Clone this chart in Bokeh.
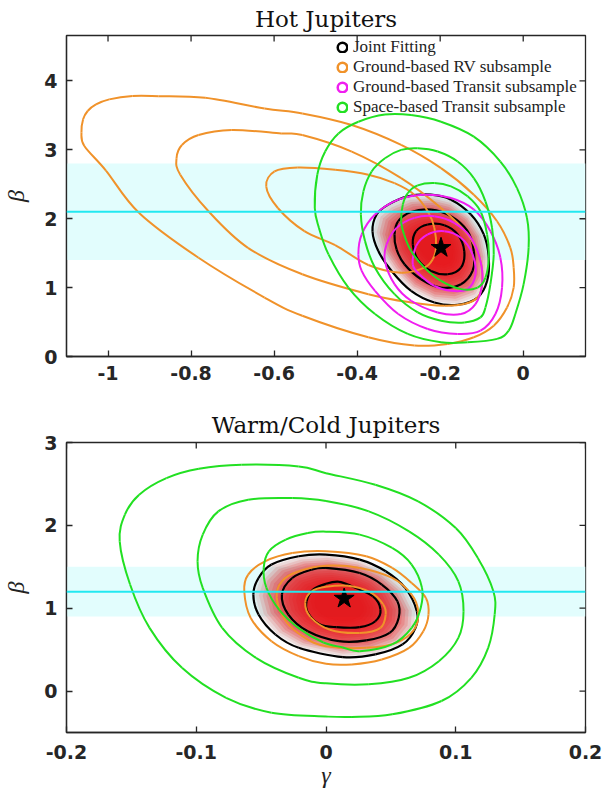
import math
from bokeh.plotting import figure
from bokeh.models import (Range1d, FixedTicker, BoxAnnotation, Span,
                          Legend, LegendItem, ColumnDataSource)
from bokeh.layouts import column
from bokeh.embed import file_html
from bokeh.resources import INLINE

# ---------------- data (gamma, beta) ----------------
HOT_X_TICKS = [-1.0, -0.8, -0.6, -0.4, -0.2, 0.0]
HOT_X_LABELS = ["-1", "-0.8", "-0.6", "-0.4", "-0.2", "0"]
HOT_Y_TICKS = [0, 1, 2, 3, 4]
HOT_Y_LABELS = ["0", "1", "2", "3", "4"]
WC_X_TICKS = [-0.2, -0.1, 0.0, 0.1, 0.2]
WC_X_LABELS = ["-0.2", "-0.1", "0", "0.1", "0.2"]
WC_Y_TICKS = [0, 1, 2, 3]
WC_Y_LABELS = ["0", "1", "2", "3"]

HOT_BETA_REF = [1.4, 2.1, 2.8]     # band low, line, band high
WC_BETA_REF = [0.9, 1.2, 1.5]
HOT_BEST = (-0.198, 1.578)
WC_BEST = (0.014, 1.117)

HOT_JOINT_1 = [(-0.266,1.627),(-0.258,1.819),(-0.230,1.916),(-0.190,1.906),(-0.158,1.772),(-0.142,1.531),
               (-0.150,1.290),(-0.182,1.194),(-0.222,1.242),(-0.254,1.411)]
HOT_JOINT_2 = [(-0.310,1.772),(-0.301,1.964),(-0.270,2.098),(-0.222,2.133),(-0.174,2.036),(-0.134,1.819),
               (-0.119,1.531),(-0.122,1.242),(-0.150,1.050),(-0.198,1.001),(-0.246,1.122),(-0.286,1.339),
               (-0.305,1.555)]
HOT_JOINT_3 = [(-0.363,1.819),(-0.353,2.061),(-0.325,2.205),(-0.278,2.325),(-0.222,2.349),(-0.174,2.277),
               (-0.126,2.061),(-0.095,1.772),(-0.083,1.434),(-0.087,1.097),(-0.110,0.856),(-0.158,0.751),
               (-0.214,0.784),(-0.270,0.953),(-0.317,1.242),(-0.349,1.531)]
HOT_RV_1 = [(-0.619,2.469),(-0.599,2.686),(-0.543,2.744),(-0.453,2.710),(-0.373,2.638),(-0.310,2.517),
            (-0.262,2.349),(-0.230,2.108),(-0.214,1.867),(-0.210,1.578),(-0.218,1.411),(-0.238,1.290),
            (-0.294,1.217),(-0.373,1.329),(-0.453,1.617),(-0.527,1.819),(-0.591,2.156)]
HOT_RV_2 = [(-0.835,2.878),(-0.822,3.071),(-0.782,3.216),(-0.702,3.288),(-0.583,3.239),(-0.532,3.215),
            (-0.413,2.975),(-0.294,2.589),(-0.198,2.156),(-0.134,1.772),(-0.103,1.386),(-0.099,1.050),
            (-0.110,0.856),(-0.142,0.761),(-0.190,0.736),(-0.270,0.784),(-0.373,0.905),(-0.532,1.194),
            (-0.663,1.578),(-0.758,2.108),(-0.826,2.638)]
HOT_RV_3 = [(-1.064,3.250),(-1.060,3.443),(-1.049,3.564),(-1.029,3.660),(-0.997,3.733),(-0.941,3.781),
            (-0.878,3.779),(-0.766,3.755),(-0.623,3.600),(-0.532,3.528),(-0.413,3.360),(-0.294,3.071),
            (-0.198,2.734),(-0.119,2.349),(-0.063,1.964),(-0.031,1.578),(-0.023,1.290),(-0.023,1.001),
            (-0.039,0.712),(-0.071,0.448),(-0.119,0.279),(-0.182,0.183),(-0.262,0.159),(-0.373,0.279),
            (-0.532,0.592),(-0.623,0.856),(-0.782,1.434),(-0.925,2.084),(-1.005,2.700),(-1.057,3.057)]
HOT_TRANSIT_1 = [(-0.266,1.339),(-0.258,1.603),(-0.230,1.772),(-0.190,1.819),(-0.150,1.723),(-0.122,1.483),
                 (-0.115,1.194),(-0.134,0.978),(-0.174,0.953),(-0.214,1.025),(-0.250,1.194)]
HOT_TRANSIT_2 = [(-0.333,1.386),(-0.329,1.627),(-0.305,1.867),(-0.262,2.012),(-0.214,2.036),(-0.166,1.939),
                 (-0.126,1.723),(-0.103,1.386),(-0.099,1.050),(-0.115,0.761),(-0.150,0.617),(-0.206,0.640),
                 (-0.270,0.809),(-0.310,1.050)]
HOT_TRANSIT_3 = [(-0.397,1.483),(-0.389,1.772),(-0.357,2.061),(-0.301,2.277),(-0.238,2.349),(-0.174,2.300),
                 (-0.119,2.133),(-0.079,1.819),(-0.055,1.434),(-0.051,1.001),(-0.067,0.617),(-0.103,0.375),
                 (-0.158,0.328),(-0.230,0.400),(-0.301,0.617),(-0.357,0.953),(-0.389,1.242)]
HOT_SPACE_1 = [(-0.294,1.964),(-0.290,2.205),(-0.278,2.373),(-0.254,2.484),(-0.214,2.517),(-0.174,2.469),
               (-0.134,2.325),(-0.103,2.108),(-0.087,1.772),(-0.083,1.434),(-0.091,1.145),(-0.110,1.001),
               (-0.150,0.978),(-0.198,1.097),(-0.238,1.290),(-0.270,1.531),(-0.287,1.772)]
HOT_SPACE_2 = [(-0.391,2.061),(-0.385,2.397),(-0.365,2.686),(-0.333,2.878),(-0.294,2.999),(-0.254,3.022),
               (-0.206,2.975),(-0.158,2.830),(-0.119,2.589),(-0.091,2.253),(-0.075,1.867),(-0.071,1.483),
               (-0.079,1.050),(-0.091,0.712),(-0.103,0.568),(-0.142,0.495),(-0.198,0.520),(-0.254,0.640),
               (-0.310,0.905),(-0.357,1.290),(-0.381,1.675)]
HOT_SPACE_3 = [(-0.502,2.156),(-0.496,2.638),(-0.477,2.975),(-0.445,3.239),(-0.397,3.408),(-0.333,3.513),
               (-0.270,3.505),(-0.198,3.408),(-0.119,3.191),(-0.055,2.830),(-0.015,2.445),(0.009,2.012),
               (0.013,1.578),(0.001,1.050),(-0.019,0.617),(-0.035,0.375),(-0.063,0.256),(-0.134,0.206),
               (-0.198,0.206),(-0.278,0.328),(-0.357,0.617),(-0.421,1.001),(-0.469,1.483),(-0.492,1.867)]

WC_JOINT_1 = [(-0.015,1.084),(-0.010,1.225),(0.000,1.295),(0.010,1.319),(0.020,1.265),(0.036,1.145),
              (0.042,0.984),(0.038,0.843),(0.026,0.771),(0.008,0.771),(-0.005,0.807),(-0.014,0.948)]
WC_JOINT_2 = [(-0.034,1.165),(-0.026,1.365),(-0.011,1.466),(0.000,1.486),(0.026,1.425),(0.043,1.286),
              (0.055,1.084),(0.056,0.883),(0.049,0.702),(0.031,0.611),(0.010,0.602),(-0.014,0.723),
              (-0.029,0.924)]
WC_JOINT_3 = [(-0.056,1.165),(-0.052,1.365),(-0.042,1.527),(-0.021,1.627),(0.000,1.647),(0.026,1.587),
              (0.046,1.446),(0.061,1.245),(0.070,0.964),(0.069,0.763),(0.059,0.563),(0.038,0.442),
              (0.013,0.410),(-0.021,0.522),(-0.039,0.683),(-0.052,0.924)]
WC_RV_1 = [(-0.016,1.069),(-0.011,1.205),(0.000,1.259),(0.017,1.271),(0.034,1.193),(0.044,1.048),
           (0.046,0.924),(0.042,0.763),(0.026,0.702),(0.003,0.741),(-0.012,0.892)]
WC_RV_2 = [(-0.038,1.124),(-0.034,1.325),(-0.021,1.446),(0.000,1.512),(0.026,1.486),(0.051,1.365),
           (0.066,1.165),(0.071,0.964),(0.068,0.743),(0.054,0.582),(0.031,0.522),(0.000,0.542),
           (-0.016,0.642),(-0.031,0.843)]
WC_RV_3 = [(-0.063,1.205),(-0.060,1.406),(-0.047,1.566),(-0.026,1.666),(0.000,1.687),(0.031,1.627),
           (0.051,1.486),(0.066,1.305),(0.077,1.124),(0.079,0.924),(0.075,0.723),(0.064,0.522),
           (0.043,0.382),(0.020,0.322),(0.000,0.329),(-0.021,0.422),(-0.042,0.602),(-0.058,0.883)]
WC_SPACE_1 = [(-0.048,1.486),(-0.044,1.687),(-0.031,1.828),(-0.014,1.907),(0.000,1.924),(0.026,1.888),
              (0.051,1.727),(0.066,1.527),(0.074,1.245),(0.073,1.004),(0.066,0.763),(0.051,0.563),
              (0.026,0.482),(0.013,0.526),(-0.002,0.586),(-0.020,0.747),(-0.036,0.980),(-0.046,1.250)]
WC_SPACE_2 = [(-0.099,1.566),(-0.095,1.888),(-0.083,2.169),(-0.060,2.310),(-0.026,2.329),(0.000,2.293),
              (0.033,2.169),(0.064,1.928),(0.087,1.647),(0.102,1.325),(0.106,0.964),(0.102,0.642),
              (0.087,0.361),(0.064,0.160),(0.033,0.081),(0.000,0.093),(-0.021,0.160),(-0.054,0.401),
              (-0.080,0.763),(-0.095,1.245)]
WC_SPACE_3 = [(-0.159,1.807),(-0.155,2.129),(-0.144,2.370),(-0.123,2.570),(-0.098,2.683),(-0.065,2.731),
              (-0.021,2.711),(0.000,2.630),(0.038,2.490),(0.071,2.289),(0.100,1.967),(0.117,1.606),
              (0.129,1.205),(0.130,0.924),(0.125,0.522),(0.112,0.160),(0.089,-0.120),(0.051,-0.281),
              (0.020,-0.313),(0.000,-0.307),(-0.042,-0.261),(-0.077,-0.081),(-0.111,0.281),(-0.136,0.763),
              (-0.151,1.286)]

LEGEND_LABELS = ["Joint Fitting", "Ground-based RV subsample",
                 "Ground-based Transit subsample", "Space-based Transit subsample"]

# ---------------- styles ----------------
C_JOINT = "#000000"
C_RV = "#f0922a"
C_TRANSIT = "#f01ef0"
C_SPACE = "#22e022"
C_CYAN = "#22e8f0"
C_BAND = "#e2fdfd"
AX_COL = "#262626"
TICK_FONT = "DejaVu Sans"
SERIF = "Liberation Serif"
TITLE_FONT = "DejaVu Serif"


def bezier_source(pts):
    g = [q[0] for q in pts]
    b = [q[1] for q in pts]
    n = len(pts)
    d = {k: [] for k in ("x0", "y0", "x1", "y1", "cx0", "cy0", "cx1", "cy1")}
    for i in range(n):
        i0, i1, i2, i3 = (i - 1) % n, i, (i + 1) % n, (i + 2) % n
        d["x0"].append(g[i1]); d["y0"].append(b[i1])
        d["x1"].append(g[i2]); d["y1"].append(b[i2])
        d["cx0"].append(g[i1] + (g[i2] - g[i0]) / 6.0)
        d["cy0"].append(b[i1] + (b[i2] - b[i0]) / 6.0)
        d["cx1"].append(g[i2] - (g[i3] - g[i1]) / 6.0)
        d["cy1"].append(b[i2] - (b[i3] - b[i1]) / 6.0)
    return ColumnDataSource(d)


def contour(p, pts, color, width=2.0):
    p.bezier(x0="x0", y0="y0", x1="x1", y1="y1", cx0="cx0", cy0="cy0", cx1="cx1", cy1="cy1",
             source=bezier_source(pts), line_color=color, line_width=width)


def mix(c0, c1, t):
    return "#%02x%02x%02x" % tuple(int(round(a + (b - a) * t)) for a, b in zip(c0, c1))


def density(p, outer, inner):
    """Shaded posterior: nested copies of the outer joint contour, darkening inwards."""
    cg = sum(q[0] for q in inner) / len(inner)
    cb = sum(q[1] for q in inner) / len(inner)
    xs, ys, cols = [], [], []
    steps = 18
    for k in range(steps):
        t = k / (steps - 1)
        s = 1.02 - 0.72 * t
        xs.append([cg + s * (q[0] - cg) for q in outer])
        ys.append([cb + s * (q[1] - cb) for q in outer])
        cols.append(mix((185, 160, 160), (232, 18, 22), min(1.0, t * 5.0)))
    p.patches(xs, ys, fill_color=cols, fill_alpha=0.17, line_color=None)


def make_fig(xr, yr, xt, xl, yt, yl, title, height, top, bottom, xlabel_std, title_std):
    p = figure(width=602, height=height, x_range=Range1d(*xr), y_range=Range1d(*yr),
               output_backend="svg", toolbar_location=None,
               min_border_left=62, min_border_right=17, min_border_top=top, min_border_bottom=bottom)
    p.background_fill_color = "white"
    p.border_fill_color = "white"
    p.outline_line_color = AX_COL
    p.outline_line_width = 1.3
    p.xgrid.visible = False
    p.ygrid.visible = False
    p.title.text = title
    p.title.align = "center"
    p.title.text_font = TITLE_FONT
    p.title.text_font_size = "23px"
    p.title.text_font_style = "normal"
    p.title.text_color = "#111111"
    p.title.standoff = title_std
    for ax, ticks, labels in ((p.below[0], xt, xl), (p.left[0], yt, yl)):
        ax.ticker = FixedTicker(ticks=ticks)
        ax.major_label_overrides = {float(t): s for t, s in zip(ticks, labels)}
        ax.major_label_text_font = TICK_FONT
        ax.major_label_text_font_style = "bold"
        ax.major_label_text_font_size = "19px"
        ax.major_label_text_color = AX_COL
        ax.major_tick_in = 6
        ax.major_tick_out = 0
        ax.minor_tick_in = 0
        ax.minor_tick_out = 0
        ax.axis_line_color = AX_COL
        ax.major_tick_line_color = AX_COL
        ax.axis_line_width = 1.3
        ax.major_tick_line_width = 1.3
    p.below[0].major_label_standoff = xlabel_std
    p.left[0].major_label_standoff = 9
    p.left[0].axis_label = "β"
    p.left[0].axis_label_text_font = SERIF
    p.left[0].axis_label_text_font_style = "italic"
    p.left[0].axis_label_text_font_size = "24px"
    p.left[0].axis_label_text_color = "#222222"
    p.left[0].axis_label_standoff = 12
    # inward ticks on the top and right sides of the box (markers clipped by the frame)
    p.scatter(x=xt, y=[yr[1]] * len(xt), marker="dash", angle=math.pi / 2, size=12,
              line_color=AX_COL, line_width=1.3)
    p.scatter(x=[xr[1]] * len(yt), y=yt, marker="dash", size=12, line_color=AX_COL, line_width=1.3)
    return p


def panel(p, ref, joint, rv, transit, space, best):
    p.add_layout(BoxAnnotation(bottom=ref[0], top=ref[2], fill_color=C_BAND, fill_alpha=1.0,
                               line_color=None, level="underlay"))
    density(p, joint[2], joint[0])
    p.add_layout(Span(location=ref[1], dimension="width", line_color=C_CYAN, line_width=2))
    for pts in joint:
        contour(p, pts, C_JOINT, 2.2)
    for pts in rv:
        contour(p, pts, C_RV, 2.0)
    for pts in transit:
        contour(p, pts, C_TRANSIT, 2.0)
    for pts in space:
        contour(p, pts, C_SPACE, 2.0)
    p.scatter(x=[best[0]], y=[best[1]], marker="star", size=21, color="black")


p1 = make_fig((-1.1, 0.15), (0, 4.66), HOT_X_TICKS, HOT_X_LABELS, HOT_Y_TICKS, HOT_Y_LABELS,
              "Hot Jupiters", 398, 33, 42, 9, 7)
panel(p1, HOT_BETA_REF, [HOT_JOINT_1, HOT_JOINT_2, HOT_JOINT_3], [HOT_RV_1, HOT_RV_2, HOT_RV_3],
      [HOT_TRANSIT_1, HOT_TRANSIT_2, HOT_TRANSIT_3], [HOT_SPACE_1, HOT_SPACE_2, HOT_SPACE_3], HOT_BEST)

items = []
for lab, col in zip(LEGEND_LABELS, (C_JOINT, C_RV, C_TRANSIT, C_SPACE)):
    r = p1.ellipse(x=[float("nan")], y=[float("nan")], width=10, height=10,
                   width_units="screen", height_units="screen",
                   fill_alpha=0, line_color=col, line_width=2.5)
    items.append(LegendItem(label=lab, renderers=[r]))
leg = Legend(items=items, location=(270, 239), border_line_alpha=0, background_fill_alpha=0,
             padding=0, margin=0, spacing=0, glyph_width=12, glyph_height=12, label_height=17,
             label_standoff=5, label_text_font=SERIF, label_text_font_size="17px",
             label_text_color="#222222")
p1.add_layout(leg)

p2 = make_fig((-0.2, 0.2), (-0.5, 3.0), WC_X_TICKS, WC_X_LABELS, WC_Y_TICKS, WC_Y_LABELS,
              "Warm/Cold Jupiters", 393, 44, 59, 12, 10)
panel(p2, WC_BETA_REF, [WC_JOINT_1, WC_JOINT_2, WC_JOINT_3], [WC_RV_1, WC_RV_2, WC_RV_3],
      [], [WC_SPACE_1, WC_SPACE_2, WC_SPACE_3], WC_BEST)
xb = p2.below[0]
xb.axis_label = "γ"
xb.axis_label_text_font = SERIF
xb.axis_label_text_font_style = "italic"
xb.axis_label_text_font_size = "24px"
xb.axis_label_text_color = "#222222"
xb.axis_label_standoff = 0

layout = column(p1, p2, spacing=0)
open("out.html", "w").write(file_html(layout, INLINE))
